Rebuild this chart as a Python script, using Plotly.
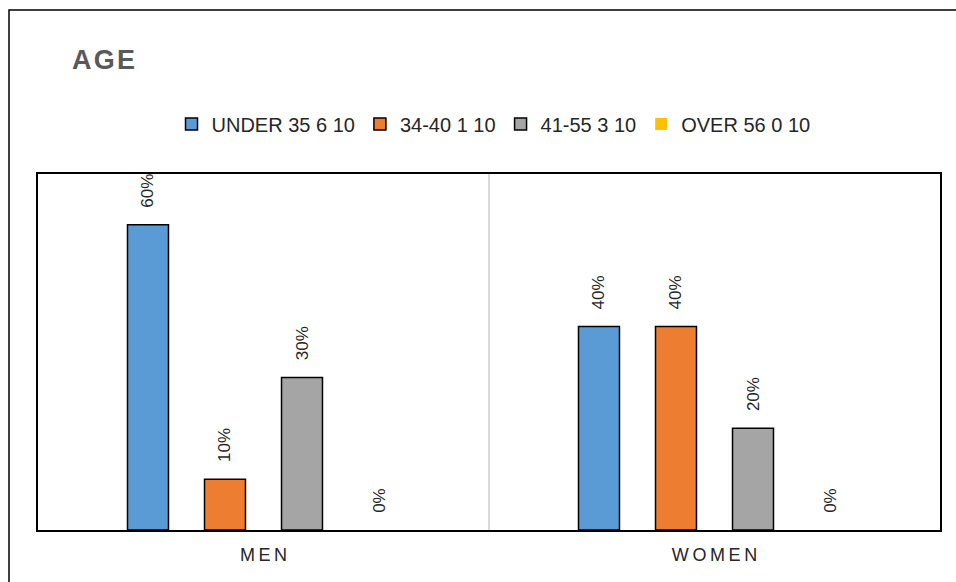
import plotly.graph_objects as go

categories = ["MEN", "WOMEN"]
tick_labels = ["M\u2009E\u2009N", "W\u2009O\u2009M\u2009E\u2009N"]
series_names = ["UNDER 35 6 10", "34-40 1 10", "41-55 3 10", "OVER 56 0 10"]
under35 = [0.60, 0.40]
age34_40 = [0.10, 0.40]
age41_55 = [0.30, 0.20]
over56 = [0.0, 0.0]
series_values = [under35, age34_40, age41_55, over56]
colors = ["#5B9BD5", "#ED7D31", "#A5A5A5", "#FFC000"]
line_widths = [1.5, 1.5, 1.5, 0]

FONT = "Liberation Sans, Arial, sans-serif"

fig = go.Figure()
for name, vals, col, lw in zip(series_names, series_values, colors, line_widths):
    fig.add_trace(go.Bar(
        x=categories, y=vals, name=name,
        marker=dict(color=col, line=dict(color="#000000", width=lw)),
        text=["\u00a0\u00a0\u00a0" + f"{v:.0%}" for v in vals],
        textposition="outside", textangle=-90, constraintext="none",
        textfont=dict(family=FONT, size=17, color="#262626"),
        cliponaxis=False,
    ))

fig.update_layout(
    width=956, height=582,
    margin=dict(l=38, r=16, t=174, b=52),
    paper_bgcolor="white", plot_bgcolor="white",
    barmode="group", bargap=0.317, bargroupgap=0.468,
    title=dict(text="A\u200aG\u200aE", x=72/956, xref="container", xanchor="left",
               y=1-60/582, yref="container", yanchor="middle",
               font=dict(family=FONT, size=27, color="#595959", weight="bold")),
    legend=dict(orientation="h", x=0.505, xanchor="center", y=1 + (174-124)/356, yanchor="middle",
                font=dict(family=FONT, size=20, color="#262626"),
                itemwidth=30, traceorder="normal"),
    showlegend=True,
)
fig.update_xaxes(
    tickvals=categories, ticktext=tick_labels, tickson="boundaries",
    showgrid=True, gridcolor="#D9D9D9", gridwidth=1.5, ticks="",
    showline=True, mirror=True, linecolor="#000000", linewidth=1.5,
    tickfont=dict(family=FONT, size=18, color="#262626"), ticklabelstandoff=8,
)
fig.update_yaxes(
    range=[0, 0.7], showticklabels=False, showgrid=False, zeroline=False, ticks="",
    showline=True, mirror=True, linecolor="#000000", linewidth=1.5,
)
fig.add_shape(type="rect", xref="paper", yref="paper",
              x0=-29/902, x1=1.2, y0=-0.5, y1=1 + (174-10)/356,
              line=dict(color="#000000", width=1.5), fillcolor="rgba(0,0,0,0)", layer="below")

fig.write_html("out.html", config={"displayModeBar": False},
               post_script="document.body.style.margin='0';")
